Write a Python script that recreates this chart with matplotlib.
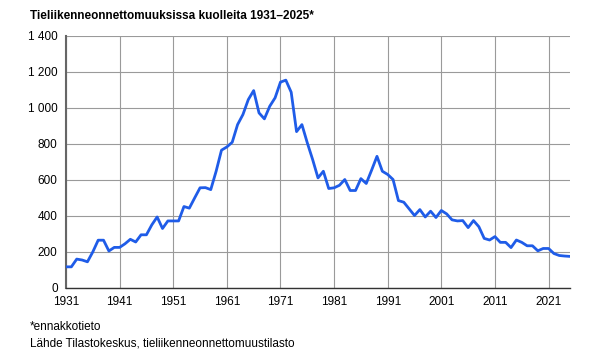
import matplotlib.pyplot as plt

years = list(range(1931, 2026))
deaths = [117, 117, 160, 155, 145, 200, 265, 265, 205, 225,
          225, 245, 270, 255, 295, 295, 350, 394, 330, 372,
          372, 372, 452, 443, 500, 556, 557, 546, 648, 765,
          783, 809, 907, 963, 1046, 1096, 972, 939, 1009, 1056,
          1143, 1154, 1087, 868, 907, 806, 713, 611, 648, 552,
          556, 570, 602, 541, 541, 607, 580, 654, 731, 648,
          630, 602, 485, 476, 439, 402, 435, 394, 426, 391,
          430, 411, 378, 372, 374, 335, 374, 340, 275, 266,
          285, 253, 253, 224, 266, 253, 234, 234, 206, 219,
          219, 191, 180, 177, 175]
xticks = list(range(1931, 2022, 10))
yticks = list(range(0, 1401, 200))

plt.rcParams['font.family'] = ['Liberation Sans', 'DejaVu Sans']

fig = plt.figure(figsize=(6, 3.55), dpi=100)
ax = fig.add_axes([0.11, 0.189, 0.84, 0.71])
ax.plot(years, deaths, color='#1f5ce8', linewidth=2, zorder=3)

ax.set_xlim(1931, 2025)
ax.set_ylim(0, 1400)
ax.set_xticks(xticks)
ax.set_yticks(yticks)
ax.set_yticklabels([f'{v:,}'.replace(',', ' ') for v in yticks])
ax.tick_params(length=0, labelsize=8.5, colors='black')
ax.tick_params(axis='y', pad=6)
ax.tick_params(axis='x', pad=6)
ax.grid(True, color='#9a9a9a', linewidth=0.8)
for s in ['top', 'right']:
    ax.spines[s].set_visible(False)
ax.spines['left'].set_color('#666666')
ax.spines['left'].set_linewidth(1.5)
ax.spines['bottom'].set_color('#333333')
ax.spines['bottom'].set_linewidth(1)

fig.text(0.05, 0.955, 'Tieliikenneonnettomuuksissa kuolleita 1931–2025*',
         fontsize=8.5, fontweight='bold', va='center')
fig.text(0.05, 0.08, '*ennakkotieto', fontsize=8.5, va='center')
fig.text(0.05, 0.033, 'Lähde Tilastokeskus, tieliikenneonnettomuustilasto',
         fontsize=8.5, va='center')

fig.savefig('out.png', dpi=100)
